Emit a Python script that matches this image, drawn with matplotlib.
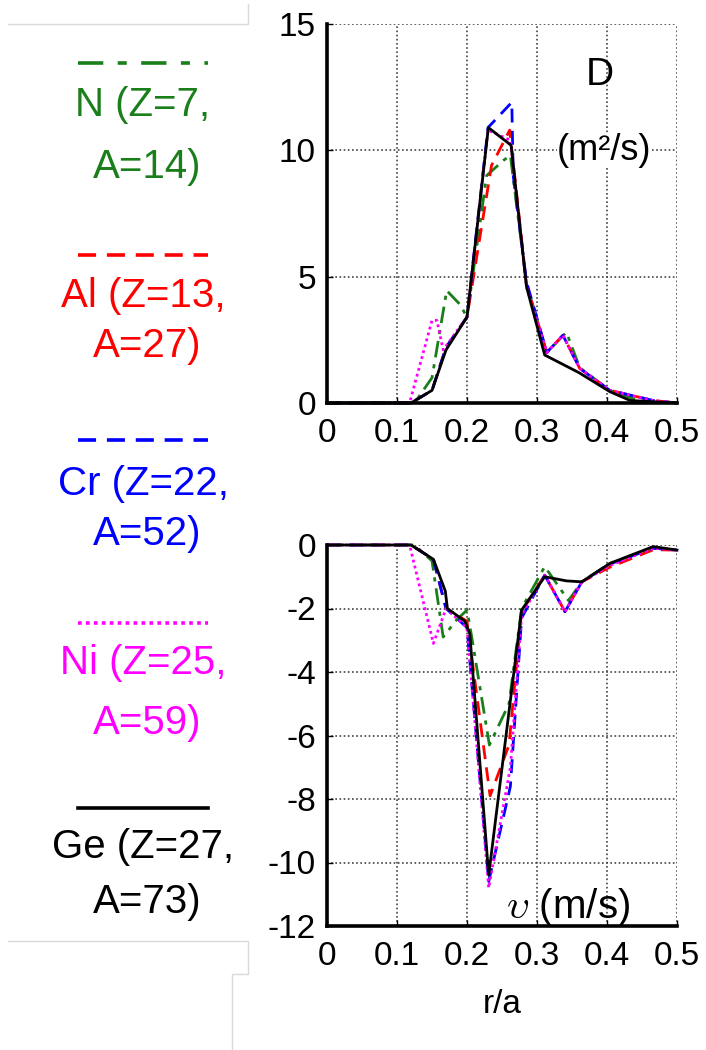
import matplotlib.pyplot as plt
from matplotlib.lines import Line2D

plt.rcParams['font.family'] = ['Liberation Sans', 'DejaVu Sans']

# diffusion coefficient D (m^2/s) vs r/a
d_ge_x = [0, 0.12, 0.15, 0.17, 0.2, 0.2305, 0.263, 0.285, 0.311, 0.36, 0.404, 0.433, 0.5]
d_ge_y = [0, 0, 0.5, 2.1, 3.4, 10.9, 10.2, 4.6, 1.9, 1.2, 0.45, 0.1, 0]

d_n_x = [0, 0.125, 0.15, 0.171, 0.19, 0.2, 0.228, 0.252, 0.262, 0.285, 0.314, 0.342, 0.361, 0.404, 0.45, 0.5]
d_n_y = [0, 0, 1.0, 4.45, 3.9, 3.4, 9.0, 9.6, 9.8, 4.7, 2.0, 2.8, 1.4, 0.5, 0.05, 0]

d_al_x = [0, 0.12, 0.15, 0.17, 0.2, 0.235, 0.261, 0.285, 0.314, 0.337, 0.361, 0.404, 0.466, 0.5]
d_al_y = [0, 0, 0.5, 2.2, 3.4, 9.4, 10.8, 4.7, 2.0, 2.68, 1.37, 0.5, 0.1, 0]

d_cr_x = [0, 0.12, 0.15, 0.17, 0.2, 0.23, 0.264, 0.266, 0.285, 0.314, 0.337, 0.361, 0.404, 0.466, 0.5]
d_cr_y = [0, 0, 0.5, 2.2, 3.4, 10.9, 11.9, 9.0, 4.8, 2.0, 2.68, 1.37, 0.5, 0.1, 0]

d_ni_x = [0, 0.118, 0.15, 0.157, 0.166, 0.2, 0.23, 0.262, 0.285, 0.314, 0.337, 0.361, 0.404, 0.466, 0.5]
d_ni_y = [0, 0, 3.27, 3.27, 2.1, 3.4, 10.8, 10.4, 4.6, 2.0, 2.68, 1.37, 0.5, 0.1, 0]

# convection velocity v (m/s) vs r/a
v_ge_x = [0, 0.12, 0.152, 0.169, 0.172, 0.197, 0.204, 0.231, 0.278, 0.311, 0.342, 0.364, 0.404, 0.466, 0.5]
v_ge_y = [0, 0, -0.45, -1.45, -2.0, -2.4, -2.8, -10.4, -2.05, -1.0, -1.13, -1.16, -0.58, -0.05, -0.16]

v_n_x = [0, 0.125, 0.15, 0.166, 0.185, 0.2, 0.206, 0.232, 0.26, 0.278, 0.311, 0.345, 0.364, 0.404, 0.466, 0.5]
v_n_y = [0, 0, -0.5, -2.9, -2.36, -2.05, -2.8, -6.3, -5.0, -2.0, -0.68, -1.75, -1.16, -0.58, -0.1, -0.16]

v_al_x = [0, 0.12, 0.152, 0.17, 0.2, 0.233, 0.26, 0.278, 0.311, 0.34, 0.364, 0.404, 0.466, 0.5]
v_al_y = [0, 0, -0.45, -2.0, -2.4, -7.9, -6.3, -2.1, -0.95, -2.1, -1.16, -0.7, -0.15, -0.16]

v_cr_x = [0, 0.12, 0.152, 0.17, 0.2, 0.231, 0.262, 0.278, 0.311, 0.34, 0.364, 0.404, 0.466, 0.5]
v_cr_y = [0, 0, -0.45, -2.0, -2.6, -10.6, -7.6, -2.3, -0.95, -2.1, -1.16, -0.6, -0.1, -0.16]

v_ni_x = [0, 0.118, 0.152, 0.17, 0.2, 0.231, 0.262, 0.278, 0.311, 0.34, 0.364, 0.404, 0.466, 0.5]
v_ni_y = [0, 0, -3.1, -2.0, -2.6, -10.8, -7.0, -2.2, -0.95, -2.1, -1.16, -0.65, -0.1, -0.16]

species = ["N (Z=7,\nA=14)", "Al (Z=13,\nA=27)", "Cr (Z=22,\nA=52)", "Ni (Z=25,\nA=59)", "Ge (Z=27,\nA=73)"]
colors = ["#1a7f1a", "#ff0000", "#0000ff", "#ff00ff", "#000000"]
styles = [(0, (6, 2.5, 1.5, 2.5)), (0, (5, 3)), (0, (5, 3)), (0, (1, 1.2)), "-"]
legend_styles = [(0, (7, 4, 2.5, 4)), (0, (5, 3)), (0, (5, 3)), (0, (1, 1.2)), "-"]

W, H = 706, 1050
fig = plt.figure(figsize=(W / 100, H / 100), dpi=100)


def fx(x):
    return x / W


def fy(y):
    return 1 - y / H


ax1 = fig.add_axes([fx(327), fy(403), 350 / W, 379 / H])
ax2 = fig.add_axes([fx(327), fy(926), 350 / W, 381 / H])

d_series = [(d_n_x, d_n_y), (d_al_x, d_al_y), (d_cr_x, d_cr_y), (d_ni_x, d_ni_y), (d_ge_x, d_ge_y)]
v_series = [(v_n_x, v_n_y), (v_al_x, v_al_y), (v_cr_x, v_cr_y), (v_ni_x, v_ni_y), (v_ge_x, v_ge_y)]

for ax, series in [(ax1, d_series), (ax2, v_series)]:
    for (xs, ys), c, ls in zip(series, colors, styles):
        ax.plot(xs, ys, color=c, linestyle=ls, linewidth=2.0, clip_on=False)
    ax.set_xlim(0, 0.5)
    ax.set_xticks([0, 0.1, 0.2, 0.3, 0.4, 0.5])
    ax.set_xticklabels(["0", "0.1", "0.2", "0.3", "0.4", "0.5"])
    ax.grid(True, color="#444444", linestyle=(0, (1, 1.5)), linewidth=1.2)
    for side in ["top", "right"]:
        ax.spines[side].set_visible(False)
    for side in ["left", "bottom"]:
        ax.spines[side].set_linewidth(2.6)
    ax.tick_params(direction="in", length=4, width=1, labelsize=24, pad=8)
    ax.tick_params(axis="x", pad=11)

ax1.set_ylim(0, 15)
ax1.set_yticks([0, 5, 10, 15])
ax2.set_ylim(-12, 0)
ax2.set_yticks([-12, -10, -8, -6, -4, -2, 0])
ax2.set_yticklabels(["-12", "-10", "-8", "-6", "-4", "-2", "0"])
ax2.set_xlabel("r/a", fontsize=24, labelpad=12)

ax1.text(0.39, 13.0, "D", fontsize=28, ha="center", va="center")
ax1.text(0.396, 10.0, "(m²/s)", fontsize=26, ha="center", va="center",
         bbox=dict(facecolor="white", edgecolor="none", pad=0))
ax2.text(0.345, -11.4, r"$\upsilon$ (m/s)", fontsize=29, ha="center", va="center",
         math_fontfamily="cm")

# legend column on the left
line_y = [63, 255, 440, 623, 808]
text1_y = [105, 296, 484, 663, 847]
text2_y = [167, 346, 534, 723, 902]
for i, name in enumerate(species):
    first, second = name.split("\n")
    fig.add_artist(Line2D([fx(78), fx(208)], [fy(line_y[i]), fy(line_y[i])],
                          color=colors[i], linestyle=legend_styles[i], linewidth=2.6))
    fig.text(fx(143), fy(text1_y[i]), first, color=colors[i], fontsize=29,
             ha="center", va="center")
    fig.text(fx(147), fy(text2_y[i]), second, color=colors[i], fontsize=29,
             ha="center", va="center")

# faint frame lines from the original screenshot
frame = "#d9d9d9"
fig.add_artist(Line2D([fx(8), fx(248), fx(248)], [fy(24), fy(24), fy(4)], color=frame, linewidth=1))
fig.add_artist(Line2D([fx(8), fx(248), fx(248), fx(232), fx(232)],
                      [fy(941), fy(941), fy(974), fy(974), fy(1050)], color=frame, linewidth=1))

fig.savefig("out.png", dpi=100)
